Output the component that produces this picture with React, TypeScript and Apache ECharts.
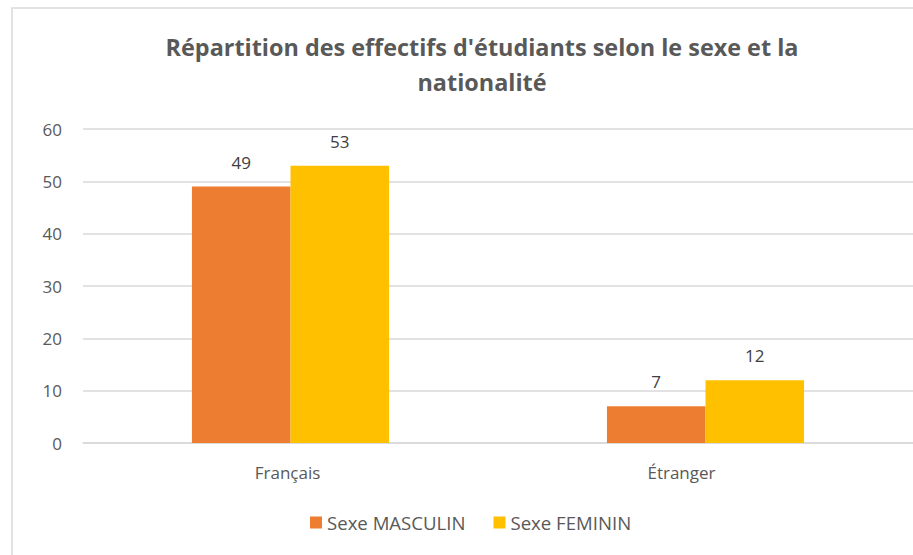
import React, { useEffect, useRef } from "react";
import * as echarts from "echarts";

const categories = ["Français", "Étranger"];
const masculin = [49, 7];
const feminin = [53, 12];
const seriesNames = ["Sexe MASCULIN", "Sexe FEMININ"];
const titleText = "Répartition des effectifs d'étudiants selon le sexe et la\nnationalité";

export default function App() {
  const ref = useRef<HTMLDivElement>(null);
  useEffect(() => {
    if (!ref.current) return;
    const chart = echarts.init(ref.current, null, { renderer: "svg" });
    const font = "Open Sans, Noto Sans, sans-serif";
    chart.setOption({
      animation: false,
      backgroundColor: "#ffffff",
      textStyle: { fontFamily: font },
      graphic: [
        {
          type: "rect",
          shape: { x: 12, y: 8, width: 1000, height: 600 },
          style: { fill: "none", stroke: "#d9d9d9", lineWidth: 1.5 },
          silent: true,
          z: -1,
        },
        {
          type: "text",
          x: 482,
          y: 29,
          silent: true,
          style: {
            text: titleText,
            align: "center",
            verticalAlign: "top",
            fontFamily: font,
            fontSize: 23.4,
            fontWeight: "bold",
            fill: "#595959",
            lineHeight: 35,
          },
        },
      ],
      legend: {
        bottom: 18,
        left: 305,
        itemWidth: 12,
        itemHeight: 12,
        itemGap: 28,
        icon: "rect",
        textStyle: { fontSize: 18.6, color: "#595959", fontFamily: font },
        data: seriesNames,
      },
      grid: { left: 83, right: 0, top: 129, bottom: 112 },
      xAxis: {
        type: "category",
        data: categories,
        axisLine: { lineStyle: { color: "#d9d9d9", width: 1.5 } },
        axisTick: { show: false },
        axisLabel: {
          fontSize: 17,
          color: "#595959",
          margin: 21,
          formatter: (v: string, i: number) => (i === 1 ? "{s|" + v + "}" : "{n|" + v + "}"),
          rich: {
            n: { fontSize: 17, color: "#595959", padding: [0, 6, 0, 0] },
            s: { fontSize: 17, color: "#595959", padding: [0, 48, 0, 0] },
          },
        },
      },
      yAxis: {
        type: "value",
        min: 0,
        max: 60,
        interval: 10,
        axisLine: { show: false },
        axisTick: { show: false },
        axisLabel: { fontSize: 17, color: "#595959", margin: 21 },
        splitLine: { lineStyle: { color: "#d9d9d9", width: 1.5 } },
      },
      series: [
        {
          name: seriesNames[0],
          type: "bar",
          data: masculin,
          barGap: "0%",
          barCategoryGap: "52.5%",
          itemStyle: { color: "#ED7D31" },
          label: { show: true, position: "top", fontSize: 17, color: "#404040", distance: 16 },
        },
        {
          name: seriesNames[1],
          type: "bar",
          data: feminin,
          barGap: "0%",
          barCategoryGap: "52.5%",
          itemStyle: { color: "#FFC000" },
          label: { show: true, position: "top", fontSize: 17, color: "#404040", distance: 16 },
        },
      ],
    });
    return () => chart.dispose();
  }, []);
  return (
    <div
      ref={ref}
      style={{ position: "fixed", left: 0, top: 0, width: 913, height: 555 }}
    />
  );
}
